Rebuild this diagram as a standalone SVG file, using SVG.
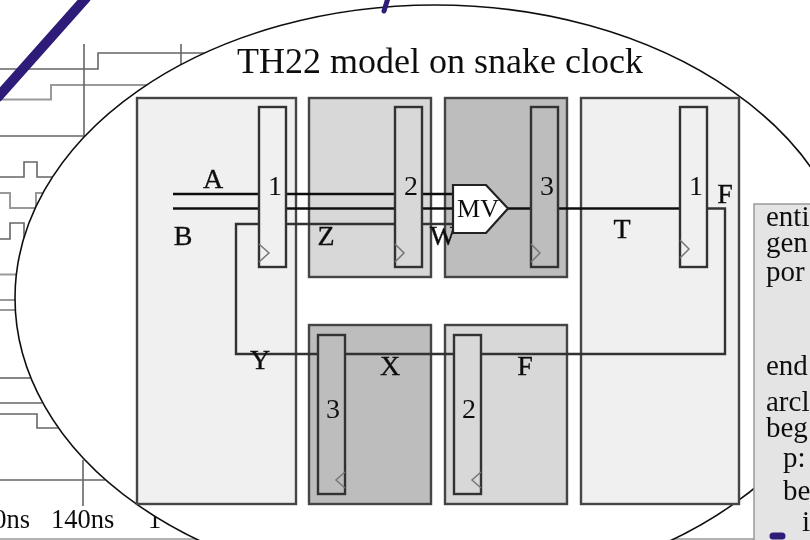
<svg xmlns="http://www.w3.org/2000/svg" width="810" height="540" viewBox="0 0 810 540">
<defs>
<style>
text{font-family:"Liberation Serif","Times New Roman",serif;fill:#111}
.w{fill:none;stroke:#666;stroke-width:1.6}
.wl{fill:none;stroke:#999;stroke-width:2}
.box{stroke:#444;stroke-width:2.4}
.light{fill:#f0f0f0}.mid{fill:#d8d8d8}.dark{fill:#bdbdbd}
.reg{stroke:#333;stroke-width:2.4}
.clk{fill:none;stroke:#777;stroke-width:1.5}
.c{fill:none;stroke:#111;stroke-width:2.3}
.c2{fill:none;stroke:#333;stroke-width:2.4}
.lab{font-size:28px;text-anchor:middle;stroke:#111;stroke-width:.35}
.num{font-size:28px;text-anchor:middle}
.code{font-size:29px}
.blue{fill:none;stroke:#2f1a78;stroke-linecap:round}
</style>
<filter id="soft" x="0" y="0" width="100%" height="100%"><feGaussianBlur stdDeviation="0.45"/></filter>
</defs>
<rect width="810" height="540" fill="#fff"/>
<g filter="url(#soft)">
<g id="waveforms">
<path class="w" d="M0 69H98V53H215"/>
<path class="wl" d="M0 99.500H51V85H160"/>
<path class="w" d="M84 44V136M181 44V70M0 136H84"/>
<path class="w" d="M0 177H24V162H37V177H54"/>
<path class="wl" d="M0 193H10V208H36V193H44"/>
<path class="w" d="M0 239H10V223H24V245"/>
<path class="wl" d="M0 274.500H18M0 300H16M0 310H16"/>
<path class="w" d="M0 378H30"/>
<path class="w" stroke-width="2" d="M0 403H42"/>
<path class="w" d="M0 414H37V428H60"/>
<path class="w" d="M0 480H105M83 460V506"/>
<path d="M0 539H810" stroke="#999" stroke-width="1.5" fill="none"/>
<text x="30" y="528" font-size="26.500" text-anchor="end">0ns</text>
<text x="51" y="528" font-size="26.500">140ns</text>
<text x="148" y="528" font-size="26.500">1</text>
</g>
<ellipse id="lens" cx="435" cy="298" rx="420" ry="293" fill="#fff" stroke="#111" stroke-width="1.6"/>
<text id="title" x="237" y="73" font-size="36">TH22 model on snake clock</text>
<g id="stage-a1"><rect class="box light" x="137" y="98" width="159" height="406"/></g>
<g id="stage-b2"><rect class="box mid" x="309" y="98" width="122" height="179"/></g>
<g id="stage-c3"><rect class="box dark" x="445" y="98" width="122" height="179"/></g>
<g id="stage-d1"><rect class="box light" x="581" y="98" width="158" height="406"/></g>
<g id="stage-e3"><rect class="box dark" x="309" y="325" width="122" height="179"/></g>
<g id="stage-f2"><rect class="box mid" x="445" y="325" width="122" height="179"/></g>
<g id="connectors">
<path class="c" d="M173 194H259M286 194H395M422 194H453"/>
<path class="c" d="M173 208.500H259M286 208.500H395M422 208.500H453"/>
<path class="c2" stroke-width="1.800" d="M286 224H395M422 224H453"/>
<path class="c2" d="M259 224H236V354H318M345 354H454M481 354H725V208.500H707"/>
<path class="c" d="M508 208.500H531M558 208.500H680"/>
</g>
<g id="reg-1"><rect class="reg light" x="259" y="107" width="27" height="160"/><path class="clk" d="M259 244L269 253L259 262"/><text class="num" x="275" y="195">1</text></g>
<g id="reg-2"><rect class="reg mid" x="395" y="107" width="27" height="160"/><path class="clk" d="M395 244L404 253L395 262"/><text class="num" x="411" y="195">2</text></g>
<g id="reg-3"><rect class="reg dark" x="531" y="107" width="27" height="160"/><path class="clk" d="M531 244L540 253L531 262"/><text class="num" x="547" y="195">3</text></g>
<g id="reg-4"><rect class="reg light" x="680" y="107" width="27" height="160"/><path class="clk" d="M680 240L689 249L680 258"/><text class="num" x="696" y="195">1</text></g>
<g id="reg-5"><rect class="reg dark" x="318" y="335" width="27" height="159"/><path class="clk" d="M345 472L336 480L345 488"/><text class="num" x="333" y="418">3</text></g>
<g id="reg-6"><rect class="reg mid" x="454" y="335" width="27" height="159"/><path class="clk" d="M481 472L472 480L481 488"/><text class="num" x="469" y="418">2</text></g>
<g id="labels">
<text class="lab" x="213" y="188">A</text>
<text class="lab" x="183" y="245">B</text>
<text class="lab" x="326" y="245">Z</text>
<text class="lab" x="443" y="245">W</text>
<text class="lab" x="260" y="369">Y</text>
<text class="lab" x="390" y="375">X</text>
<text class="lab" x="525" y="375">F</text>
<text class="lab" x="622" y="238">T</text>
<text class="lab" x="725" y="203">F</text>
</g>
<g id="mv"><path d="M453 185H486L508 208.500L486 233H453Z" fill="#fff" stroke="#222" stroke-width="2.200"/><text x="478" y="217" font-size="26" text-anchor="middle">MV</text></g>
<g id="code-panel">
<rect x="754" y="204" width="60" height="340" fill="#e4e4e4" stroke="#999" stroke-width="1.5"/>
<text class="code" x="766" y="226">enti</text>
<text class="code" x="766" y="252">gen</text>
<text class="code" x="766" y="281">por</text>
<text class="code" x="766" y="375">end</text>
<text class="code" x="766" y="411">arcl</text>
<text class="code" x="766" y="437">beg</text>
<text class="code" x="783" y="467">p:</text>
<text class="code" x="783" y="500">be</text>
<text class="code" x="802" y="531">i</text>
</g>
<g id="pen-marks">
<path class="blue" stroke-width="10" stroke-linecap="butt" d="M86 -2L-2 97"/>
<path class="blue" stroke-width="5" d="M388 -2L384 11"/>
<path class="blue" stroke-width="7" d="M773 536H782"/>
</g>
</g>
</svg>
